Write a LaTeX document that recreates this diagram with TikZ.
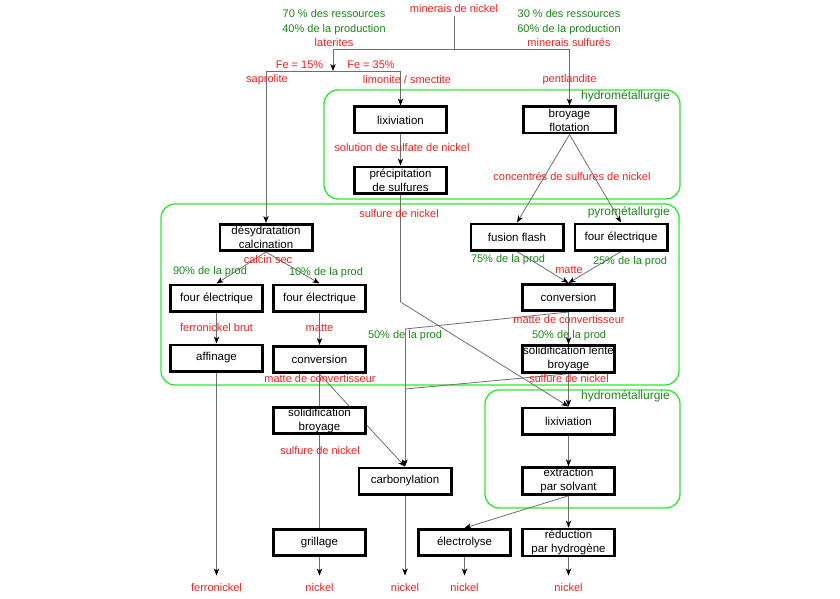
\documentclass[tikz,border=0pt]{standalone}
\usepackage{fontspec}
\setmainfont{Liberation Sans}
\usetikzlibrary{arrows.meta,positioning}
\pgfdeclarelayer{links}
\pgfsetlayers{links,main}
\definecolor{flowred}{RGB}{255,25,25}
\definecolor{pctgreen}{RGB}{25,135,25}
\definecolor{zonegreen}{RGB}{40,235,40}
\definecolor{linegray}{RGB}{110,110,110}

\begin{document}
\begin{tikzpicture}[x=1pt, y=-1pt,
    every node/.style={font=\fontsize{11}{14}\selectfont},
    procbox/.style={rectangle, draw, line width=2.8pt, fill=white, align=center,
        minimum width=92.2pt, minimum height=26.2pt, inner sep=1pt,
        font=\fontsize{11.5}{14}\selectfont},
    redlbl/.style={text=flowred, inner sep=1pt, text height=8pt, text depth=2.5pt},
    pctlbl/.style={redlbl, text=pctgreen},
    endlbl/.style={redlbl, inner ysep=8pt},
    zone/.style={draw=zonegreen, line width=1.3pt, rounded corners=14pt},
    zonelbl/.style={pctlbl, anchor=east, font=\fontsize{12}{14}\selectfont},
    link/.style={draw=linegray, line width=0.8pt},
    flow/.style={link, -{Stealth[length=7pt, width=5.4pt, inset=2pt, color=black]}},
]
\useasboundingbox (0,0) rectangle (840,599);

% ===== TOP: ores =====
\node[redlbl] (minerai) at (454,10) {minerais de nickel};

\node[pctlbl] (lat1) at (334,15) {70 \% des ressources};
\node[pctlbl, below=1.5pt of lat1] (lat2) {40\% de la production};
\node[redlbl, below=1.5pt of lat2] (lat3) {laterites};

\node[pctlbl] (sulf1) at (569,15) {30 \% des ressources};
\node[pctlbl, below=1.5pt of sulf1] (sulf2) {60\% de la production};
\node[redlbl, below=1.5pt of sulf2] (sulf3) {minerais sulfurés};

\node[redlbl] (fe15) at (299.5,66) {Fe = 15\%};
\node[redlbl] (fe35) at (371,66) {Fe = 35\%};
\node[redlbl] (sapro) at (267,80) {saprolite};
\node[redlbl] (limo) at (407,81) {limonite / smectite};
\node[redlbl] (pentl) at (569.5,80) {pentlandite};

\coordinate (j0) at (454,49);
\coordinate (jlat) at (333,71);
\coordinate (jsap) at (266,71);
\coordinate (jlim) at (400.5,71);

% ===== Hydrometallurgy (laterites / sulfides) =====
\node[procbox] (lix1) at (400.5,120) {lixiviation};
\node[procbox] (precip) at (400.5,180) {précipitation\\de sulfures};
\node[procbox] (broy) at (569.5,120) {broyage\\flotation};
\node[zonelbl] (hydro1) at (671,97) {hydrométallurgie};
\node[redlbl] (solsulf) at (402,149) {solution de sulfate de nickel};
\node[redlbl] (concent) at (572,178) {concentrés de sulfures de nickel};
\node[redlbl] (sulfni1) at (399,215) {sulfure de nickel};

% ===== Pyrometallurgy =====
\node[procbox] (deshyd) at (266,237.5) {désydratation\\calcination};
\node[procbox] (four1) at (216.5,298) {four électrique};
\node[procbox] (four2) at (319.5,298) {four électrique};
\node[procbox] (affin) at (216.5,358) {affinage};
\node[procbox] (conv1) at (319.5,359.5) {conversion};
\node[zonelbl] (pyro) at (671,213) {pyrométallurgie};

\node[redlbl] (calcin) at (268,261) {calcin sec};
\node[pctlbl] (p90) at (210,272) {90\% de la prod};
\node[pctlbl] (p10) at (326,273) {10\% de la prod};
\node[redlbl] (fnbrut) at (216.5,329) {ferronickel brut};
\node[redlbl] (matte1) at (319.5,329) {matte};
\node[redlbl] (mconv1) at (320,380) {matte de convertisseur};

\node[procbox] (flash) at (517,237) {fusion flash};
\node[procbox] (four3) at (621,237) {four électrique};
\node[procbox] (conv2) at (568.5,297.5) {conversion};
\node[procbox] (solid2) at (568.5,359) {solidification lente\\broyage};

\node[pctlbl] (p75) at (508,260) {75\% de la prod};
\node[pctlbl] (p25) at (630,262) {25\% de la prod};
\node[redlbl] (matte2) at (569,271) {matte};
\node[redlbl] (mconv2) at (569,321) {matte de convertisseur};
\node[pctlbl] (p50r) at (569,336) {50\% de la prod};
\node[pctlbl] (p50l) at (405,336) {50\% de la prod};
\node[redlbl] (sulfni2) at (569,380) {sulfure de nickel};

\coordinate (jprec) at (400.5,302);
\coordinate (jcarb1) at (405,329);
\coordinate (jcarb2) at (405,389);

% ===== Lower part =====
\node[procbox] (solid1) at (319.5,420.5) {solidification\\broyage};
\node[redlbl] (sulfni3) at (320,452) {sulfure de nickel};
\node[procbox] (carbo) at (405,481) {carbonylation};
\node[procbox] (grill) at (319.5,542.5) {grillage};

\node[procbox] (lix2) at (568.5,421) {lixiviation};
\node[procbox] (extr) at (568.5,481) {extraction\\par solvant};
\node[zonelbl] (hydro2) at (671,397) {hydrométallurgie};
\node[procbox] (electro) at (464.5,542.5) {électrolyse};
\node[procbox] (reduc) at (568.5,542.5) {réduction\\par hydrogène};

% Final products
\node[endlbl] (ferro) at (216.5,589) {ferronickel};
\node[endlbl] (nick1) at (319.5,589) {nickel};
\node[endlbl] (nick3) at (405,589) {nickel};
\node[endlbl] (nick4) at (464.5,589) {nickel};
\node[endlbl] (nick5) at (568.5,589) {nickel};

% ===== Zones and connectors (behind the boxes) =====
\begin{pgfonlayer}{links}
\draw[zone] (324,90) rectangle (680,199);
\draw[zone] (161,204) rectangle (679,385);
\draw[zone] (485,390) rectangle (680,508);

\draw[link] (minerai.south) -- (j0);
\draw[flow] (j0) -| (jlat);
\draw[flow] (j0) -| (broy.north);
\draw[link] (jsap) -- (jlim);
\draw[flow] (jsap) -- (deshyd.north);
\draw[flow] (jlim) -- (lix1.north);

\draw[flow] (lix1) -- (precip);
\draw[flow] (broy.south) -- (flash.north);
\draw[flow] (broy.south) -- (four3.north);
\draw[link] (precip.south) -- (jprec);
\draw[flow] (jprec) -- (lix2.north);

\draw[flow] (deshyd.south) -- (four1.north);
\draw[flow] (deshyd.south) -- (four2.north);
\draw[flow] (four1) -- (affin);
\draw[flow] (four2) -- (conv1);
\draw[flow] (affin.south) -- (ferro.north);
\draw[flow] (conv1.south) -- (nick1.north);
\draw[flow] (conv1.south) -- (carbo.north);

\draw[flow] (flash.south) -- (conv2.north);
\draw[flow] (four3.south) -- (conv2.north);
\draw[flow] (conv2) -- (solid2);
\draw[link] (conv2.south) -- (jcarb1);
\draw[flow] (jcarb1) -- (carbo.north);
\draw[link] (solid2.south) -- (jcarb2);
\draw[flow] (solid2) -- (lix2);

\draw[flow] (lix2) -- (extr);
\draw[flow] (extr.south) -- (electro.north);
\draw[flow] (extr) -- (reduc);
\draw[flow] (carbo.south) -- (nick3.north);
\draw[flow] (electro) -- (nick4);
\draw[flow] (reduc) -- (nick5);
\end{pgfonlayer}

\end{tikzpicture}
\end{document}
